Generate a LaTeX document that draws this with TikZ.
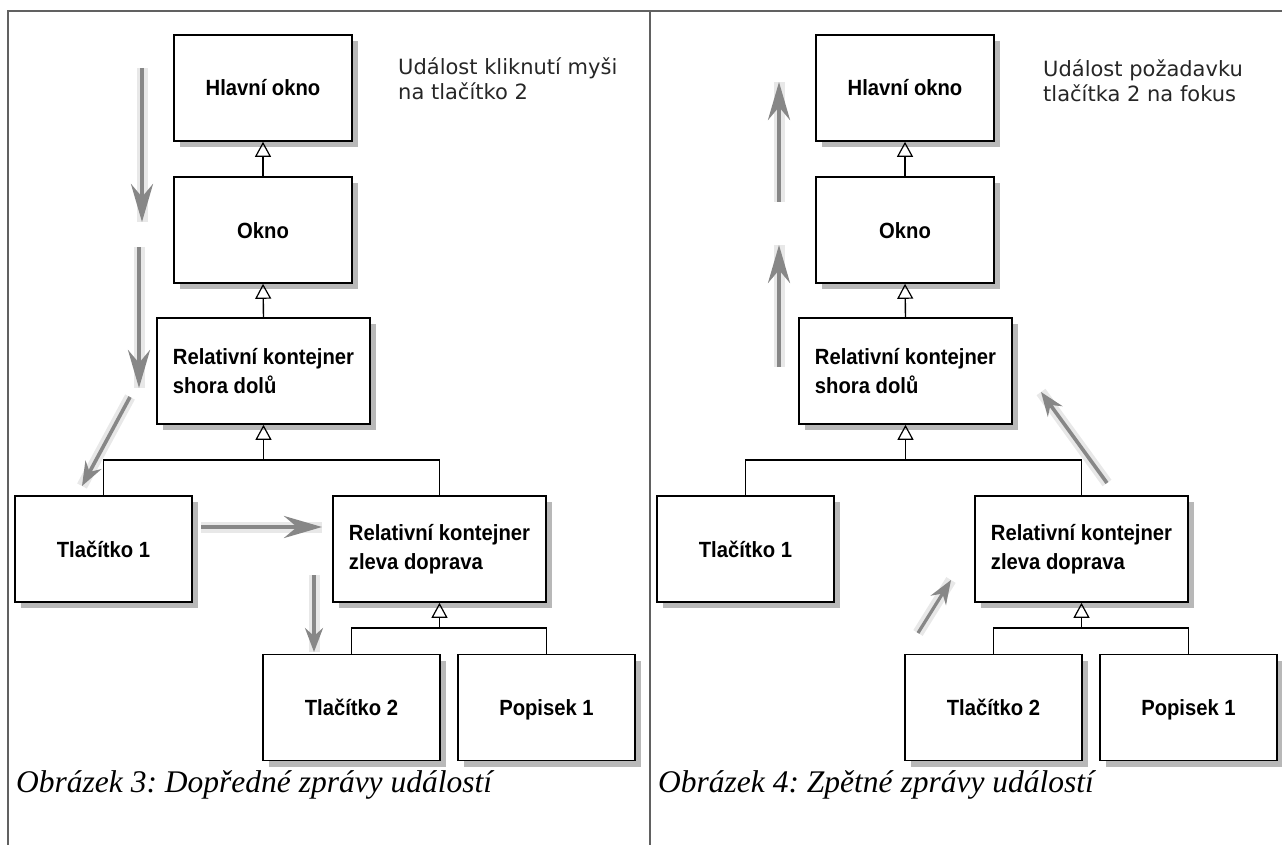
\documentclass[tikz,border=0pt]{standalone}
\usepackage{fontspec}
\setmainfont{Liberation Serif}
\newfontfamily\boxfont[FakeStretch=0.92]{Liberation Sans}
\newfontfamily\notefont{DejaVu Sans}
\usetikzlibrary{arrows.meta,shadows}

\begin{document}
\frenchspacing
\begin{tikzpicture}[x=1pt,y=-1pt,
  umlbox/.style={draw=black, line width=1.6pt, fill=white, inner sep=0pt,
    minimum height=106pt,
    font=\boxfont\bfseries\fontsize{22}{29}\selectfont,
    drop shadow={shadow xshift=6pt, shadow yshift=-6pt, fill=black!28, opacity=1}},
  narrowbox/.style={umlbox, minimum width=177pt, text height=16pt, text depth=0pt},
  widebox/.style={umlbox, minimum width=213pt, align=left},
  tree/.style={draw=black, line width=1.4pt},
  inh/.style={tree, -{Triangle[open, length=15pt, width=16pt, line width=1.2pt]}},
  frameline/.style={draw=black!62, line width=1.4pt},
  glow/.style={preaction={draw=black!9, line width=11pt, arrows=-}},
  evarrow/.style={glow, draw=black!47, line width=4.5pt,
    -{Stealth[length=38pt, width=22pt, inset=13pt]}},
  evsmall/.style={glow, draw=black!47, line width=3.2pt,
    -{Stealth[length=24pt, width=18pt, inset=8pt]}},
  note/.style={anchor=base west, inner sep=0pt, text=black!85,
    font=\notefont\fontsize{21}{25}\selectfont},
  caption/.style={anchor=base west, inner sep=0pt,
    font=\itshape\fontsize{31.5}{36}\selectfont}
]
\useasboundingbox (0,0) rectangle (1282,845);

% page frame and divider between the two figures
\draw[frameline] (8,845) -- (8,11) -- (1282,11);
\draw[frameline] (650,11) -- (650,845);

% ---------- left figure: forward event dispatch ----------
\node[narrowbox, minimum width=178pt] (lhl) at (263,88)  {Hlavní okno};
\node[narrowbox, minimum width=178pt] (lok) at (263,230) {Okno};
\node[widebox]   (lrs) at (263.5,371) {Relativní kontejner\\shora dolů};
\node[narrowbox] (lt1) at (103.5,549) {Tlačítko 1};
\node[widebox]   (lrz) at (439.5,549) {Relativní kontejner\\zleva doprava};
\node[narrowbox] (lt2) at (351.5,707.5) {Tlačítko 2};
\node[narrowbox] (lp1) at (546.5,707.5) {Popisek 1};

\coordinate (lev1) at (0,460);
\coordinate (lev2) at (0,628);
\coordinate (lb1) at (lrs.south |- lev1);
\coordinate (lb2) at (lrz.south |- lev2);

\draw[inh] (lok.north) -- (lhl.south);
\draw[inh] (lrs.north) -- (lok.south);
\draw[tree] (lt1.north) |- (lb1) -| (lrz.north);
\draw[inh] (lb1) -- (lrs.south);
\draw[tree] (lt2.north) |- (lb2) -| (lp1.north);
\draw[inh] (lb2) -- (lrz.south);

\node[note] (lnote1) at (398,75)  {Událost kliknutí myši};
\node[note] (lnote2) at (398,100) {na tlačítko 2};

\coordinate (la1s) at (142,68);  \coordinate (la1e) at (142,222);
\coordinate (la2s) at (139,247); \coordinate (la2e) at (139,388);
\coordinate (la3s) at (130,397); \coordinate (la3e) at (82,486);
\coordinate (la4s) at (201,527); \coordinate (la4e) at (322,527);
\coordinate (la5s) at (314,575); \coordinate (la5e) at (314,652);
\draw[evarrow] (la1s) -- (la1e);
\draw[evarrow] (la2s) -- (la2e);
\draw[evsmall, line width=3.6pt] (la3s) -- (la3e);
\draw[evarrow] (la4s) -- (la4e);
\draw[evsmall] (la5s) -- (la5e);

\node[caption] (lcap) at (16,792) {Obrázek 3: Dopředné zprávy událostí};

% ---------- right figure: backward event propagation ----------
\begin{scope}[xshift=642pt]
\node[narrowbox, minimum width=178pt] (rhl) at (263,88)  {Hlavní okno};
\node[narrowbox, minimum width=178pt] (rok) at (263,230) {Okno};
\node[widebox]   (rrs) at (263.5,371) {Relativní kontejner\\shora dolů};
\node[narrowbox] (rt1) at (103.5,549) {Tlačítko 1};
\node[widebox]   (rrz) at (439.5,549) {Relativní kontejner\\zleva doprava};
\node[narrowbox] (rt2) at (351.5,707.5) {Tlačítko 2};
\node[narrowbox] (rp1) at (546.5,707.5) {Popisek 1};

\coordinate (rev1) at (0,460);
\coordinate (rev2) at (0,628);
\coordinate (rb1) at (rrs.south |- rev1);
\coordinate (rb2) at (rrz.south |- rev2);

\draw[inh] (rok.north) -- (rhl.south);
\draw[inh] (rrs.north) -- (rok.south);
\draw[tree] (rt1.north) |- (rb1) -| (rrz.north);
\draw[inh] (rb1) -- (rrs.south);
\draw[tree] (rt2.north) |- (rb2) -| (rp1.north);
\draw[inh] (rb2) -- (rrz.south);

\node[note] (rnote1) at (401,77)  {Událost požadavku};
\node[note] (rnote2) at (401,102) {tlačítka 2 na fokus};

\coordinate (ra1s) at (137,202); \coordinate (ra1e) at (137,82);
\coordinate (ra2s) at (137,367); \coordinate (ra2e) at (137,245);
\coordinate (ra3s) at (465,483); \coordinate (ra3e) at (399,392);
\coordinate (ra4s) at (276,633); \coordinate (ra4e) at (309,580);
\draw[evarrow] (ra1s) -- (ra1e);
\draw[evarrow] (ra2s) -- (ra2e);
\draw[evsmall, line width=3.6pt] (ra3s) -- (ra3e);
\draw[evsmall] (ra4s) -- (ra4e);

\node[caption] (rcap) at (16,792) {Obrázek 4: Zpětné zprávy událostí};
\end{scope}
\end{tikzpicture}
\end{document}
